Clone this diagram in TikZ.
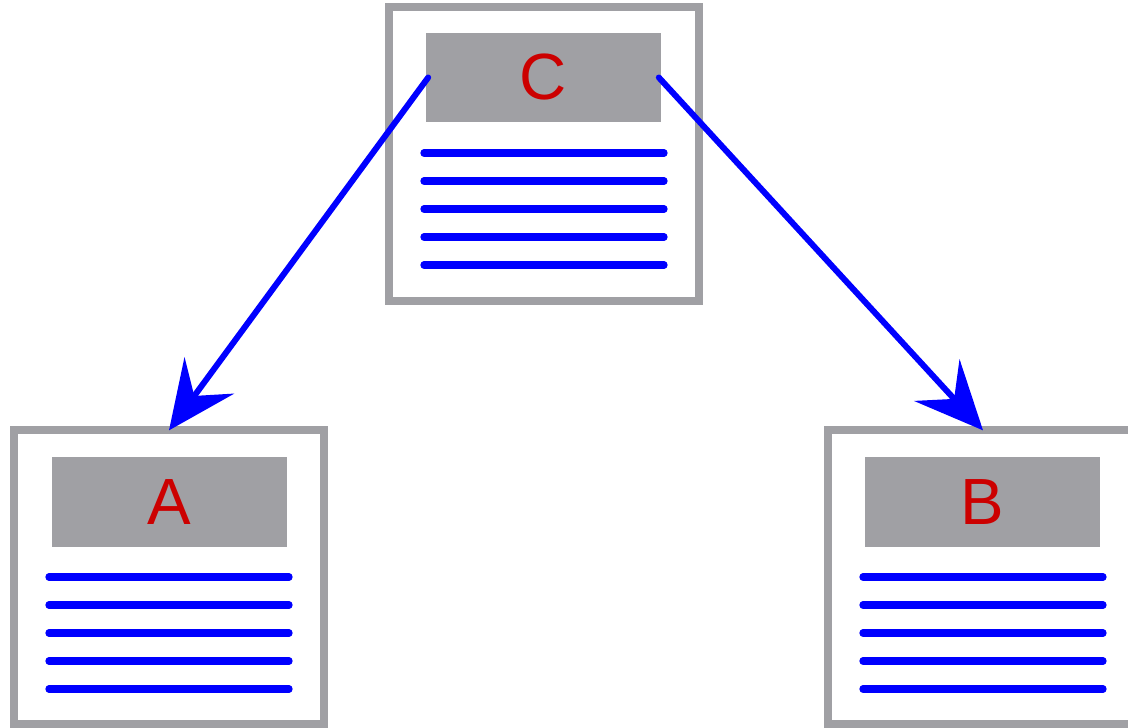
\documentclass[tikz,border=0pt]{standalone}
\usepackage{fontspec}
\setmainfont{Liberation Sans}
\usetikzlibrary{arrows.meta}

\begin{document}
\begin{tikzpicture}[x=0.75pt,y=0.75pt,yscale=-1,xscale=1,
  docbox/.style={draw={rgb, 255:red, 160; green, 160; blue, 164 }, line width=6pt, fill=white,
    minimum width=232.5pt, minimum height=220pt, inner sep=0pt, outer sep=0pt},
  headbox/.style={fill={rgb, 255:red, 160; green, 160; blue, 164 }, minimum width=176pt, minimum height=67pt,
    inner sep=0pt, outer sep=0pt, text={rgb, 255:red, 204; green, 0; blue, 0 }, font=\fontsize{49}{49}\selectfont},
  textline/.style={draw={rgb, 255:red, 0; green, 0; blue, 255 }, line width=5.5pt, line cap=round},
  link/.style={draw={rgb, 255:red, 0; green, 0; blue, 255 }, line width=4.5pt, line cap=round,
    -{Stealth[length=51pt, width=46pt, inset=19pt]}}]
\useasboundingbox (0,0) rectangle (1128,728);

%Shape: Rectangle
\node [docbox] (boxC) at (543.5,154) {};
%Shape: Rectangle
\node [docbox] (boxA) at (169,577) {};
%Shape: Rectangle
\node [docbox] (boxB) at (983,577) {};

% Text Node
\node [headbox] (headC) at (543.5,77.5) {C};
% Text Node
\node [headbox] (headA) at (169.5,502) {A};
% Text Node
\node [headbox] (headB) at (982.5,502) {B};

%Straight Lines
\draw [textline] (424,153) -- (664,153) ;
\draw [textline] (424,181) -- (664,181) ;
\draw [textline] (424,209) -- (664,209) ;
\draw [textline] (424,237) -- (664,237) ;
\draw [textline] (424,265) -- (664,265) ;
%Straight Lines
\draw [textline] (49,577) -- (289,577) ;
\draw [textline] (49,605) -- (289,605) ;
\draw [textline] (49,633) -- (289,633) ;
\draw [textline] (49,661) -- (289,661) ;
\draw [textline] (49,689) -- (289,689) ;
%Straight Lines
\draw [textline] (863,577) -- (1103,577) ;
\draw [textline] (863,605) -- (1103,605) ;
\draw [textline] (863,633) -- (1103,633) ;
\draw [textline] (863,661) -- (1103,661) ;
\draw [textline] (863,689) -- (1103,689) ;

%Straight Lines
\draw [link] ([xshift=1.5pt]headC.west) -- (boxA.north) ;
%Straight Lines
\draw [link] ([xshift=-1.5pt]headC.east) -- (boxB.north) ;

\end{tikzpicture}
\end{document}
